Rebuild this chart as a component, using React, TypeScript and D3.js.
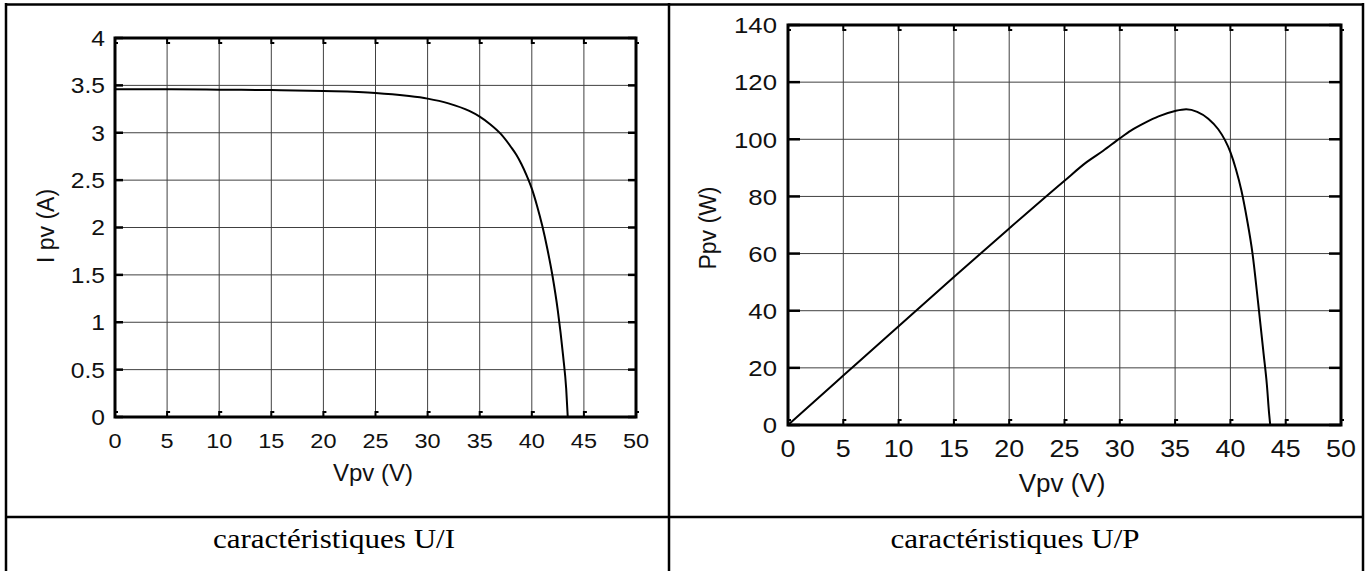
import React from "react";
import * as d3 from "d3";

// I-V characteristic (Vpv [V], Ipv [A])
const ivVoltage = [0, 5, 10, 15, 20, 25, 28, 30, 32, 34, 35, 36, 37, 38, 38.5, 39, 39.5, 40, 40.5, 41, 41.5, 42, 42.5, 43, 43.3, 43.45];
const ivCurrent = [3.46, 3.46, 3.455, 3.45, 3.44, 3.42, 3.39, 3.36, 3.31, 3.23, 3.17, 3.09, 2.99, 2.85, 2.77, 2.67, 2.55, 2.41, 2.23, 2.02, 1.77, 1.48, 1.12, 0.65, 0.3, 0];

// P-V characteristic (Vpv [V], Ppv [W])
const pvVoltage = [0, 5, 10, 15, 20, 25, 27, 28.5, 30, 31, 32.3, 33.5, 35, 36, 37, 38, 38.9, 39.5, 40, 40.5, 41, 41.5, 42, 42.5, 43, 43.3, 43.5, 43.6];
const pvPower = [0, 17.3, 34.6, 51.8, 68.8, 85.5, 92, 96, 100.3, 103, 105.8, 108, 109.9, 110.5, 109.6, 107.2, 103.5, 99.8, 95.5, 89.5, 82, 72, 60, 43, 25, 14, 4, 0];

const xTicks = [0, 5, 10, 15, 20, 25, 30, 35, 40, 45, 50];
const leftYTicks = [0, 0.5, 1, 1.5, 2, 2.5, 3, 3.5, 4];
const leftYLabels = ["0", "0.5", "1", "1.5", "2", "2.5", "3", "3.5", "4"];
const rightYTicks = [0, 20, 40, 60, 80, 100, 120, 140];

const xTitle = "Vpv (V)";
const leftYTitle = "I pv (A)";
const rightYTitle = "Ppv (W)";
const captions = ["caractéristiques U/I", "caractéristiques U/P"];

const SANS = "'Liberation Sans', Arial, Helvetica, sans-serif";
const SERIF = "'Liberation Serif', 'Times New Roman', serif";

type PanelProps = {
  x0: number; x1: number; y0: number; y1: number;
  yMax: number; yTicks: number[]; yLabels: string[];
  xs: number[]; ys: number[];
  tickFont: number; xTickFont: number; xTickBase: number; yLabelRight: number;
  yTickLen: number;
  title: string; titleX: number; titleY: number; titleFont: number;
  yTitle: string; yTitleX: number; yTitleY: number; yTitleFont: number;
};

function Panel(p: PanelProps) {
  const x = d3.scaleLinear().domain([0, 50]).range([p.x0, p.x1]);
  const y = d3.scaleLinear().domain([0, p.yMax]).range([p.y1, p.y0]);
  const data = p.xs.map((v, i) => [v, p.ys[i]] as [number, number]);
  const line = d3
    .line<[number, number]>()
    .x((d) => x(d[0]))
    .y((d) => y(d[1]))
    .curve(d3.curveMonotoneX);
  const grid = "#404040";
  return (
    <g>
      {xTicks.slice(1, -1).map((t) => (
        <line key={"gx" + t} x1={x(t)} x2={x(t)} y1={p.y0} y2={p.y1} stroke={grid} strokeWidth={1} />
      ))}
      {p.yTicks.slice(1, -1).map((t) => (
        <line key={"gy" + t} x1={p.x0} x2={p.x1} y1={y(t)} y2={y(t)} stroke={grid} strokeWidth={1} />
      ))}
      {xTicks.map((t) => (
        <g key={"tx" + t}>
          <path d={`M${x(t)},${p.y1} V${p.y1 - 5} H${x(t) + 3}`} fill="none" stroke="#000" strokeWidth={2} />
          <path d={`M${x(t)},${p.y0} V${p.y0 + 5} H${x(t) + 3}`} fill="none" stroke="#000" strokeWidth={2} />
        </g>
      ))}
      {p.yTicks.map((t) => (
        <g key={"ty" + t}>
          <line x1={p.x0} x2={p.x0 + p.yTickLen} y1={y(t)} y2={y(t)} stroke="#000" strokeWidth={2.5} />
          <line x1={p.x1} x2={p.x1 - p.yTickLen} y1={y(t)} y2={y(t)} stroke="#000" strokeWidth={2.5} />
        </g>
      ))}
      <path d={line(data) || ""} fill="none" stroke="#000" strokeWidth={2} />
      <rect x={p.x0} y={p.y0} width={p.x1 - p.x0} height={p.y1 - p.y0} fill="none" stroke="#000" strokeWidth={3} />
      {xTicks.map((t) => (
        <text
          key={"lx" + t}
          transform={`translate(${x(t)},${p.xTickBase}) scale(1.12,1)`}
          textAnchor="middle"
          fontFamily={SANS}
          fontSize={p.xTickFont}
          fill="#111"
        >
          {t}
        </text>
      ))}
      {p.yTicks.map((t, i) => (
        <text
          key={"ly" + t}
          transform={`translate(${p.yLabelRight},${y(t)}) scale(1.12,1)`}
          textAnchor="end"
          dy="0.36em"
          fontFamily={SANS}
          fontSize={p.tickFont}
          fill="#111"
        >
          {p.yLabels[i]}
        </text>
      ))}
      <text x={p.titleX} y={p.titleY} textAnchor="middle" fontFamily={SANS} fontSize={p.titleFont} fill="#111">
        {p.title}
      </text>
      <text
        transform={`translate(${p.yTitleX},${p.yTitleY}) rotate(-90)`}
        textAnchor="middle"
        fontFamily={SANS}
        fontSize={p.yTitleFont}
        fill="#111"
      >
        {p.yTitle}
      </text>
    </g>
  );
}

export default function App() {
  return (
    <svg
      width={1366}
      height={571}
      viewBox="0 0 1366 571"
      style={{ position: "absolute", left: 0, top: 0, background: "#fff" }}
    >
      <rect x={0} y={0} width={1366} height={571} fill="#fff" />
      <line x1={5} x2={1364} y1={4.5} y2={4.5} stroke="#000" strokeWidth={2.5} />
      <line x1={6} x2={6} y1={3} y2={571} stroke="#000" strokeWidth={2.5} />
      <line x1={669} x2={669} y1={3} y2={571} stroke="#000" strokeWidth={2.5} />
      <line x1={1363} x2={1363} y1={3} y2={571} stroke="#000" strokeWidth={2.5} />
      <line x1={5} x2={1364} y1={517} y2={517} stroke="#000" strokeWidth={2.5} />

      <Panel
        x0={115} x1={636} y0={38} y1={417}
        yMax={4} yTicks={leftYTicks} yLabels={leftYLabels}
        xs={ivVoltage} ys={ivCurrent}
        tickFont={22} xTickFont={21} xTickBase={448} yLabelRight={105}
        yTickLen={8}
        title={xTitle} titleX={373} titleY={481} titleFont={24}
        yTitle={leftYTitle} yTitleX={54} yTitleY={226} yTitleFont={23}
      />
      <Panel
        x0={788} x1={1341} y0={25} y1={425}
        yMax={140} yTicks={rightYTicks} yLabels={rightYTicks.map(String)}
        xs={pvVoltage} ys={pvPower}
        tickFont={23} xTickFont={24} xTickBase={457} yLabelRight={777}
        yTickLen={12}
        title={xTitle} titleX={1062} titleY={492} titleFont={26}
        yTitle={rightYTitle} yTitleX={716} yTitleY={228} yTitleFont={23}
      />

      <text transform="translate(334,548) scale(1.15,1)" textAnchor="middle" fontFamily={SERIF} fontSize={27} fill="#000">
        {captions[0]}
      </text>
      <text transform="translate(1015,548) scale(1.15,1)" textAnchor="middle" fontFamily={SERIF} fontSize={27} fill="#000">
        {captions[1]}
      </text>
    </svg>
  );
}
